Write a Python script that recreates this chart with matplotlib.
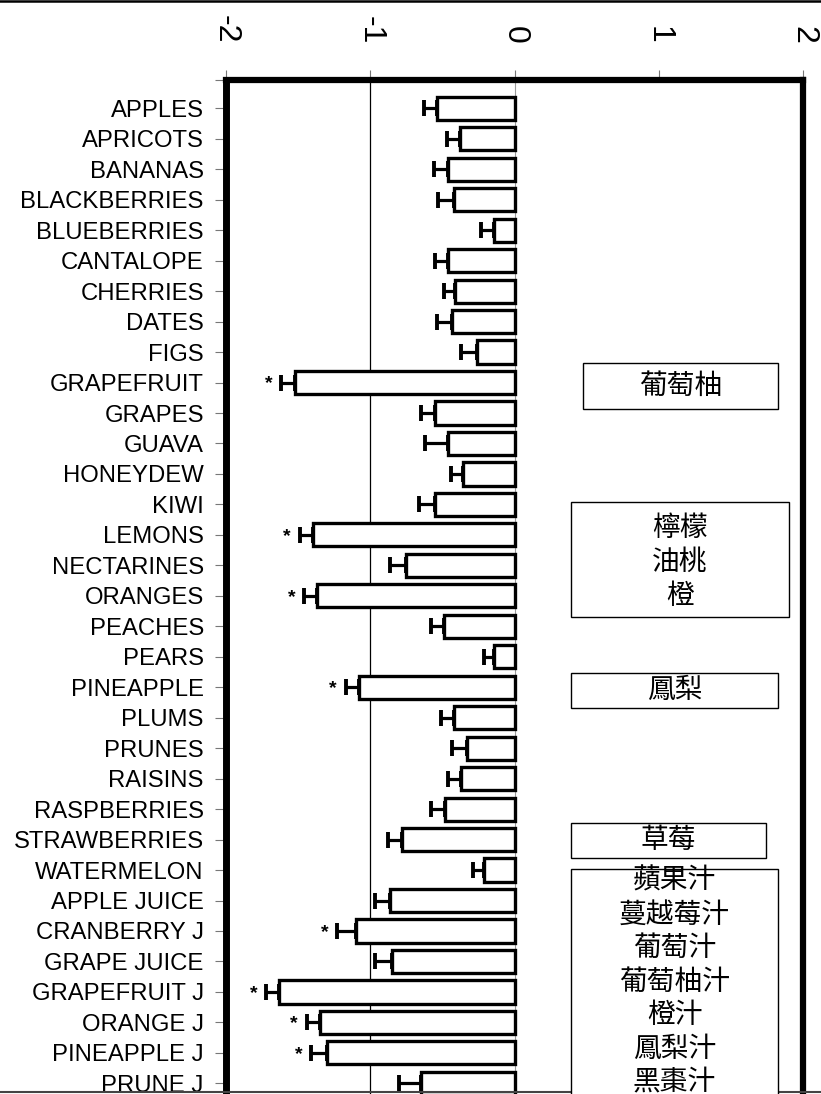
import matplotlib
matplotlib.use("Agg")
import matplotlib.pyplot as plt
from matplotlib.patches import Rectangle
from matplotlib.lines import Line2D
import numpy as np

plt.rcParams['axes.unicode_minus'] = False

categories = ["APPLES", "APRICOTS", "BANANAS", "BLACKBERRIES", "BLUEBERRIES",
              "CANTALOPE", "CHERRIES", "DATES", "FIGS", "GRAPEFRUIT", "GRAPES",
              "GUAVA", "HONEYDEW", "KIWI", "LEMONS", "NECTARINES", "ORANGES",
              "PEACHES", "PEARS", "PINEAPPLE", "PLUMS", "PRUNES", "RAISINS",
              "RASPBERRIES", "STRAWBERRIES", "WATERMELON", "APPLE JUICE",
              "CRANBERRY J", "GRAPE JUICE", "GRAPEFRUIT J", "ORANGE J",
              "PINEAPPLE J", "PRUNE J"]
values = [-0.54, -0.38, -0.46, -0.42, -0.14, -0.46, -0.41, -0.43, -0.26, -1.52,
          -0.55, -0.46, -0.36, -0.55, -1.40, -0.75, -1.37, -0.49, -0.14, -1.08,
          -0.42, -0.33, -0.37, -0.48, -0.78, -0.21, -0.86, -1.10, -0.85, -1.63,
          -1.35, -1.30, -0.65]
errors = [0.09, 0.09, 0.10, 0.11, 0.09, 0.09, 0.08, 0.11, 0.11, 0.10,
          0.10, 0.16, 0.08, 0.11, 0.09, 0.11, 0.09, 0.09, 0.07, 0.09,
          0.09, 0.10, 0.09, 0.10, 0.10, 0.08, 0.11, 0.13, 0.12, 0.09,
          0.09, 0.11, 0.15]
significant = [False, False, False, False, False, False, False, False, False, True,
               False, False, False, False, True, False, True, False, False, True,
               False, False, False, False, False, False, False, True, False, True,
               True, True, False]
xticks = [-2, -1, 0, 1, 2]
xticklabels = ["-2", "-1", "0", "1", "2"]
note_boxes = [["葡萄柚"], ["檸檬", "油桃", "橙"], ["鳳梨"], ["草莓"],
              ["蘋果汁", "蔓越莓汁", "葡萄汁", "葡萄柚汁", "橙汁", "鳳梨汁", "黑棗汁"]]

W, H = 821, 1094
fig = plt.figure(figsize=(W / 100, H / 100), dpi=100)

# axes geometry in pixels
x_left, x_right = 226, 803
y_top, y_bot = 80, 1114
ax = fig.add_axes([x_left / W, 1 - y_bot / H, (x_right - x_left) / W, (y_bot - y_top) / H])

y = np.arange(len(categories))
ax.axvline(0, color='#9a9a9a', lw=0.8, zorder=1)
ax.axvline(-1, color='black', lw=0.9, zorder=1)
ax.barh(y, values, height=0.76, color='white', edgecolor='black', linewidth=2.4, zorder=2)
ax.errorbar(values, y, xerr=[errors, np.zeros(len(errors))], fmt='none',
            ecolor='black', elinewidth=2.3, capsize=5.5, capthick=2.8, zorder=3)

for yi, v, e, s in zip(y, values, errors, significant):
    if s:
        ax.annotate('*', xy=(v - e, yi), xytext=(-9, -1), textcoords='offset points',
                    ha='center', va='center', fontsize=14, fontweight='bold',
                    family='Liberation Sans', zorder=4)

ax.set_xlim(-2, 2)
row_px = 30.47
ylim_top = (y_top - 108.3) / row_px
ylim_bot = (y_bot - 108.3) / row_px
ax.set_ylim(ylim_bot, ylim_top)

ax.xaxis.tick_top()
ax.set_xticks(xticks)
ax.set_xticklabels(xticklabels, rotation=-90, fontsize=23, family='Liberation Sans')
ax.tick_params(axis='x', direction='out', length=7, width=0.8, color='#777', pad=19)

ax.set_yticks(list(y) + [ylim_top])
ax.set_yticklabels(categories + [""], fontsize=17.2, family='Liberation Sans')
ax.tick_params(axis='y', direction='out', length=8, width=0.8, color='#777', pad=8)

ax.spines['top'].set_linewidth(4.5)
ax.spines['left'].set_linewidth(5.0)
ax.spines['right'].set_linewidth(4.5)
ax.spines['bottom'].set_visible(False)

# note boxes (pixel coords: left, top, right, bottom)
def px_rect(l, t, r, b):
    rect = Rectangle((l / W, 1 - b / H), (r - l) / W, (b - t) / H, transform=fig.transFigure,
                     fill=True, facecolor='white', edgecolor='black', lw=1.0, zorder=5)
    fig.patches.append(rect)

def px_text(x, yy, s):
    fig.text(x / W, 1 - yy / H, s, ha='center', va='center', fontsize=20,
             family=['Noto Sans CJK TC', 'DejaVu Sans'], fontweight='light', zorder=6)

box_geom = [(583, 363, 778, 409), (571, 502, 789, 617), (571, 673, 778, 708),
            (571, 823, 766, 858), (571, 869, 778, 1120)]
line_starts = [386, 528, 690, 840, 881]
line_steps = [0, 34, 0, 0, 33.5]
for (l, t, r, b), lines, y0, st in zip(box_geom, note_boxes, line_starts, line_steps):
    px_rect(l, t, r, b)
    cx = (l + r) / 2
    for k, s in enumerate(lines):
        px_text(cx, y0 + k * st, s)

# image border lines
fig.lines.append(Line2D([0, 1], [1 - 1 / H, 1 - 1 / H], transform=fig.transFigure,
                        color='black', lw=1.8))
fig.lines.append(Line2D([0, 1], [1 - 1092 / H, 1 - 1092 / H], transform=fig.transFigure,
                        color='#444', lw=1.5))

fig.savefig('out.png', dpi=100)
